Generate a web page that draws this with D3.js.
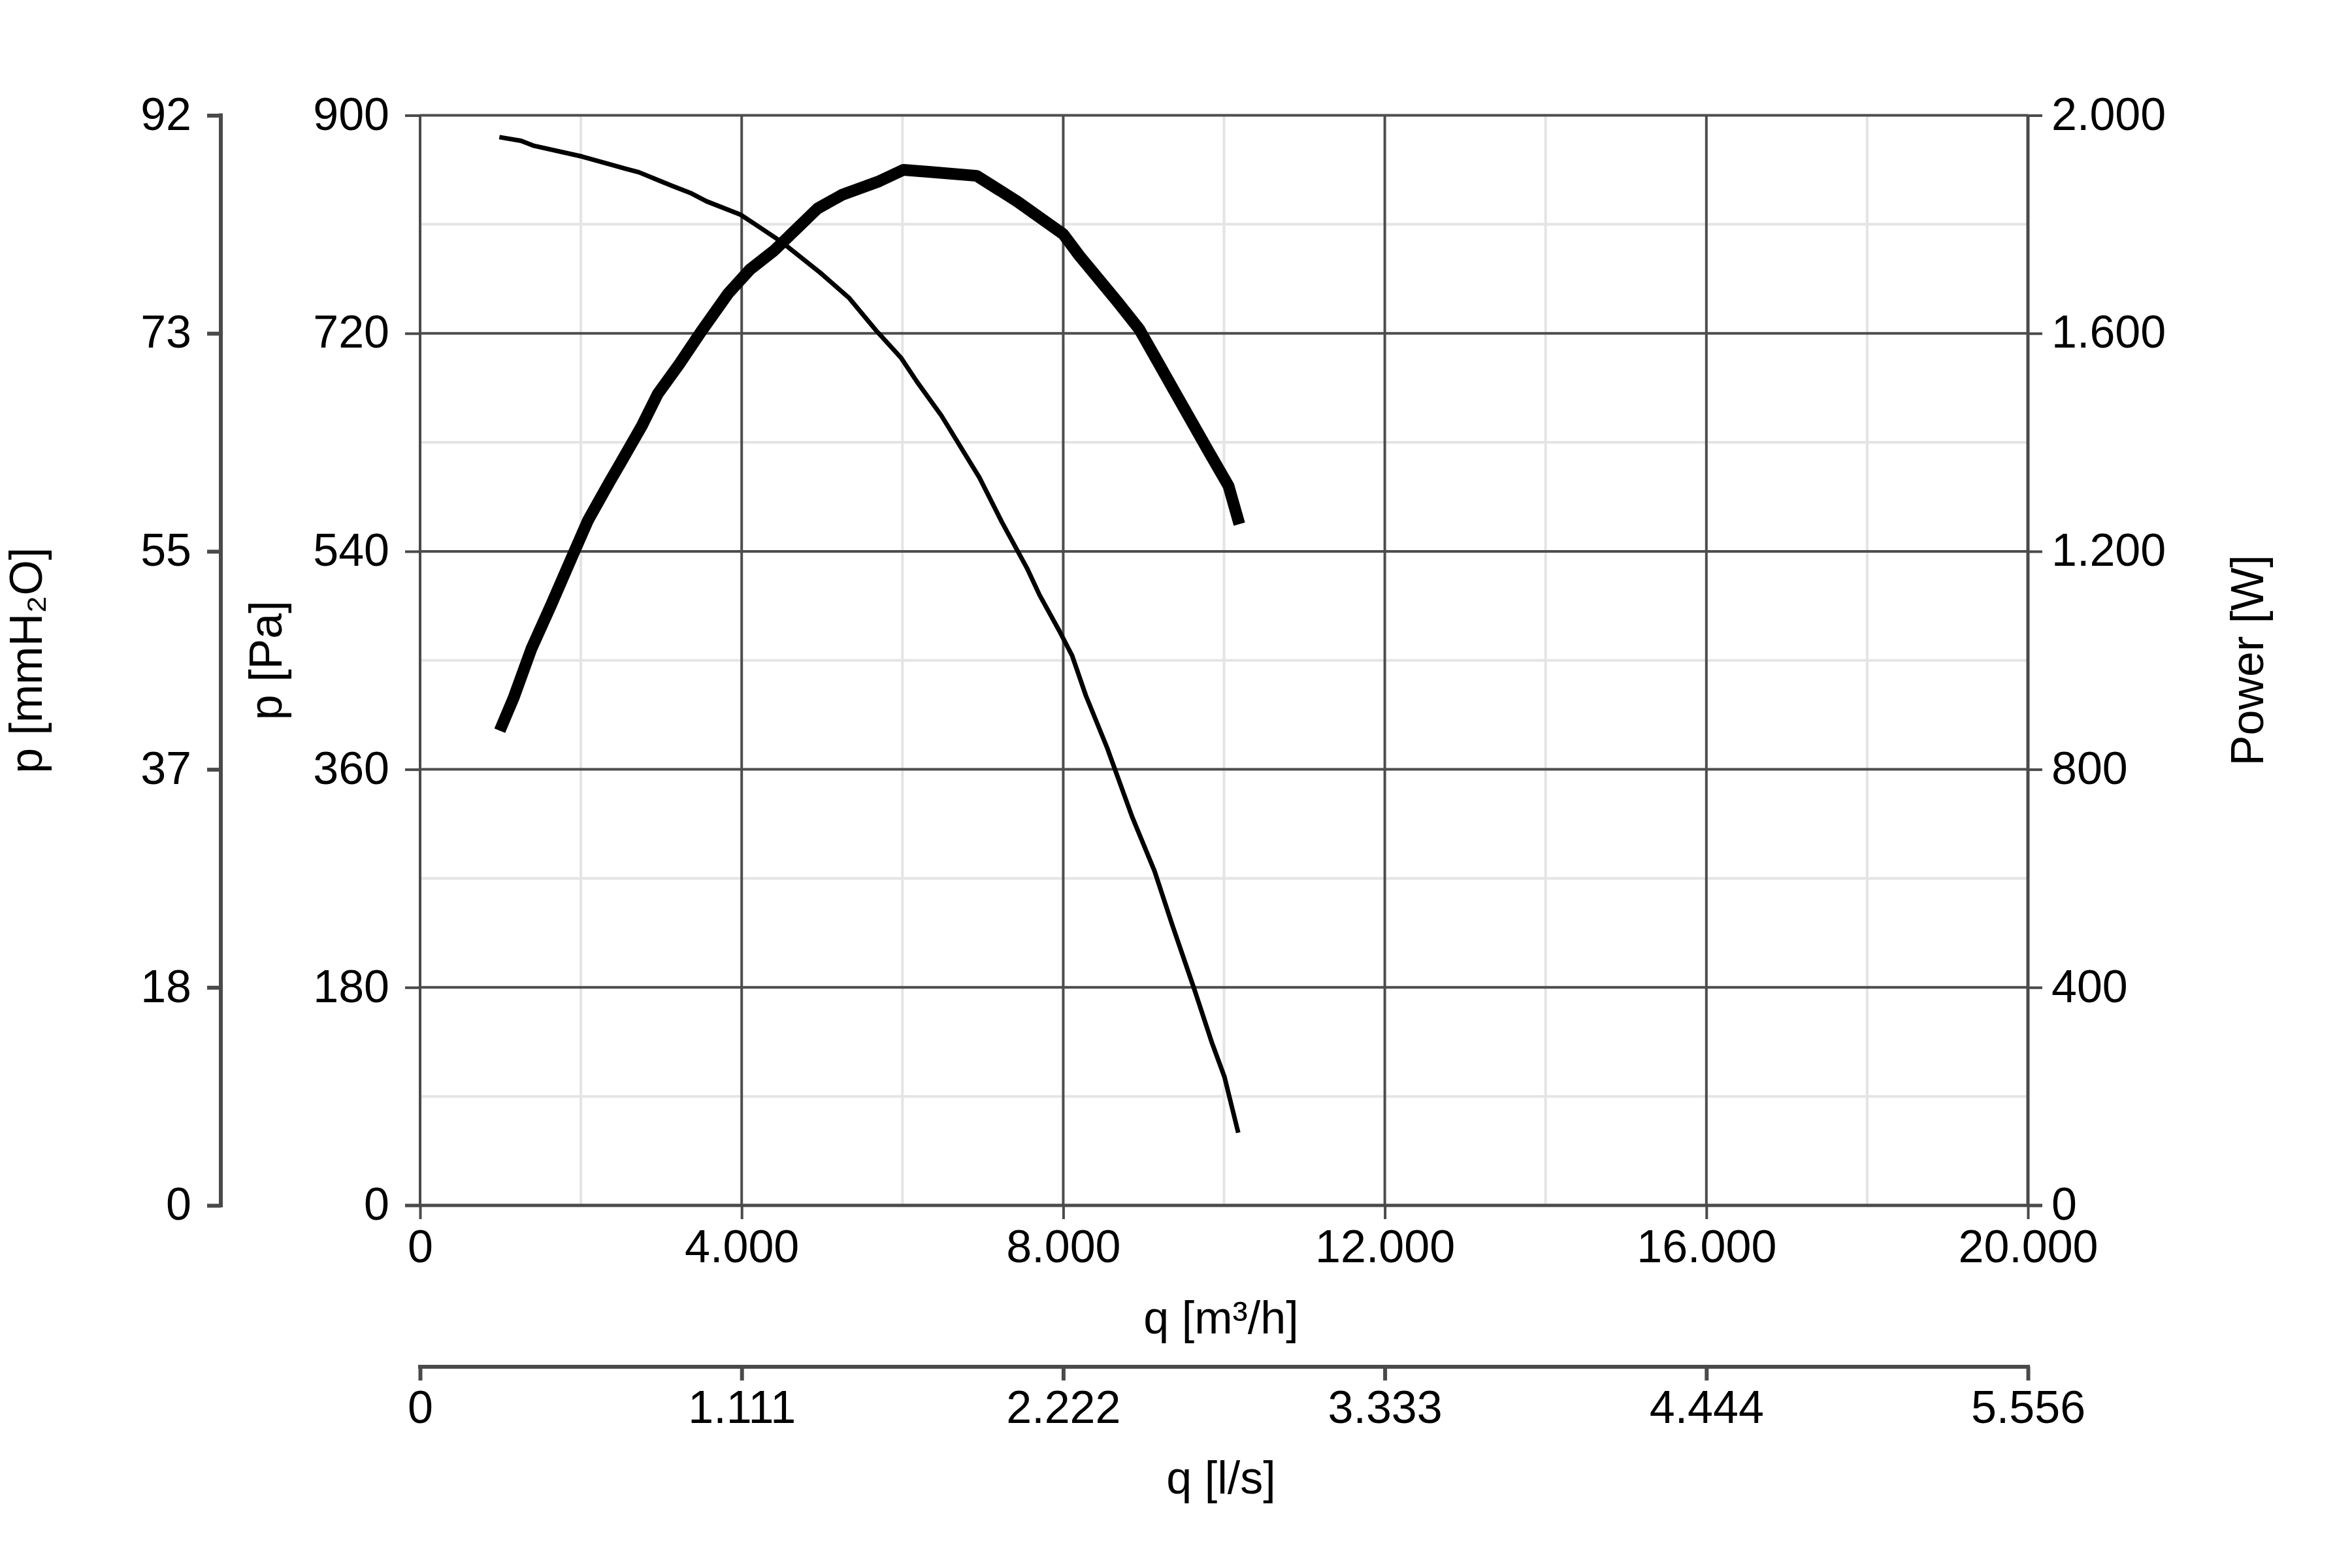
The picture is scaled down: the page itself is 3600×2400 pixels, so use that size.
<!DOCTYPE html>
<html>
<head>
<meta charset="utf-8">
<script src="https://cdn.jsdelivr.net/npm/d3@7/dist/d3.min.js"></script>
<style>
  html, body { margin: 0; padding: 0; background: #fff; }
  svg { display: block; }
  text { font-family: "Liberation Sans", Arial, sans-serif; fill: #000; }
</style>
</head>
<body>
<svg id="chart" width="3600" height="2400"></svg>
<script>
// ---- data ----
const pressureCurve = [ // [q m3/h, p Pa]
  [986,882],[1255,879],[1407,875],[2013,866],[2283,861],[2552,856],[2721,853],
  [3125,842],[3360,836],[3563,829],[3985,818],[4169,810],[4506,795],[4978,770],
  [5339,749],[5677,722],[5980,700],[6181,680],[6485,652],[6957,601],[7238,564],
  [7550,526],[7705,504],[7954,474],[8110,454],[8281,421],[8545,378],[8856,321],
  [9136,276],[9354,232],[9633,178],[9851,134],[10006,106],[10177,60]
];
const powerCurve = [ // [q m3/h, Power W]
  [991,871],[1168,933],[1384,1021],[1628,1101],[1899,1193],[2089,1257],[2359,1328],
  [2485,1360],[2754,1429],[2957,1489],[3226,1544],[3495,1603],[3832,1673],[4102,1717],
  [4405,1752],[4944,1829],[5247,1854],[5710,1879],[6013,1900],[6350,1896],[6923,1889],
  [7428,1842],[8000,1782],[8203,1742],[8674,1658],[8944,1608],[9382,1494],[9821,1380],
  [10056,1320],[10191,1250]
];
const qTicks = [0,4000,8000,12000,16000,20000];
const qMinor = [2000,6000,10000,14000,18000];
const lsTicks = [0,1111.1,2222.2,3333.3,4444.4,5555.6];
const lsLabels = ["0","1.111","2.222","3.333","4.444","5.556"];
const paTicks = [0,180,360,540,720,900];
const paMinor = [90,270,450,630,810];
const mmTicks = [0,18.355,36.71,55.065,73.42,91.775];
const mmLabels = ["0","18","37","55","73","92"];
const wTicks = [0,400,800,1200,1600,2000];

// ---- layout ----
const L = 643, R = 3104, T = 176.5, B = 1845;
const FS = 70;
const gridDark = "#4d4d4d", gridLight = "#e4e4e4", axisCol = "#4a4a4a";

const loc = d3.formatLocale({decimal: ",", thousands: ".", grouping: [3], currency: ["", ""]});
const fmt = loc.format(",d");

const x = d3.scaleLinear([0, 20000], [L, R]);
const xLs = d3.scaleLinear([0, 20000 / 3.6], [L, R]);
const yPa = d3.scaleLinear([0, 900], [B, T]);
const yMm = d3.scaleLinear([0, 900 / 9.80665], [B, T]);
const yW = d3.scaleLinear([0, 2000], [B, T]);

const svg = d3.select("#chart");
svg.append("rect").attr("width", 3600).attr("height", 2400).attr("fill", "#fff");

// minor grid
const g = svg.append("g");
g.selectAll(".vmin").data(qMinor).join("line")
  .attr("x1", d => x(d)).attr("x2", d => x(d)).attr("y1", T).attr("y2", B)
  .attr("stroke", gridLight).attr("stroke-width", 4);
g.selectAll(".hmin").data(paMinor).join("line")
  .attr("x1", L).attr("x2", R).attr("y1", d => yPa(d)).attr("y2", d => yPa(d))
  .attr("stroke", gridLight).attr("stroke-width", 4);

// major grid
g.selectAll(".vmaj").data(qTicks).join("line")
  .attr("x1", d => x(d)).attr("x2", d => x(d)).attr("y1", T).attr("y2", B)
  .attr("stroke", gridDark).attr("stroke-width", 4);
g.selectAll(".hmaj").data(paTicks).join("line")
  .attr("x1", L).attr("x2", R).attr("y1", d => yPa(d)).attr("y2", d => yPa(d))
  .attr("stroke", gridDark).attr("stroke-width", 4);

function styleAxis(sel, width) {
  sel.selectAll("path.domain").remove();
  sel.selectAll(".tick line").attr("stroke", axisCol).attr("stroke-width", width);
  sel.selectAll(".tick text").attr("font-size", FS).attr("font-family", '"Liberation Sans", Arial, sans-serif').attr("fill", "#000");
}

// left Pa axis
const axPa = svg.append("g").attr("transform", `translate(${L},0)`)
  .call(d3.axisLeft(yPa).tickValues(paTicks).tickSize(23).tickPadding(24).tickFormat(d => fmt(d)));
styleAxis(axPa, 4);
axPa.selectAll(".tick text").attr("dy", "0.31em");

// far-left mmH2O axis
const MMX = 338;
const axMm = svg.append("g").attr("transform", `translate(${MMX},0)`)
  .call(d3.axisLeft(yMm).tickValues(mmTicks).tickSize(21).tickPadding(24).tickFormat((d, i) => mmLabels[i]));
styleAxis(axMm, 6);
axMm.selectAll(".tick text").attr("dy", "0.31em");
svg.append("line").attr("x1", MMX).attr("x2", MMX).attr("y1", T - 3).attr("y2", B + 3)
  .attr("stroke", axisCol).attr("stroke-width", 6);

// right Power axis
const axW = svg.append("g").attr("transform", `translate(${R},0)`)
  .call(d3.axisRight(yW).tickValues(wTicks).tickSize(22).tickPadding(14).tickFormat(d => fmt(d)));
styleAxis(axW, 4);
axW.selectAll(".tick text").attr("dy", "0.31em");
svg.append("line").attr("x1", R).attr("x2", R).attr("y1", T).attr("y2", B)
  .attr("stroke", axisCol).attr("stroke-width", 5);

// left plot border
svg.append("line").attr("x1", L).attr("x2", L).attr("y1", T).attr("y2", B)
  .attr("stroke", axisCol).attr("stroke-width", 4);

// bottom q axis
const axQ = svg.append("g").attr("transform", `translate(0,${B})`)
  .call(d3.axisBottom(x).tickValues(qTicks).tickSize(21).tickPadding(14).tickFormat(d => fmt(d)));
styleAxis(axQ, 4);
axQ.selectAll(".tick text").attr("dy", "0").attr("y", 87);
svg.append("line").attr("x1", L - 23).attr("x2", R + 22).attr("y1", B).attr("y2", B)
  .attr("stroke", axisCol).attr("stroke-width", 5);

// second l/s axis
const LSY = 2092;
const axLs = svg.append("g").attr("transform", `translate(0,${LSY})`)
  .call(d3.axisBottom(xLs).tickValues(lsTicks).tickSize(21).tickFormat((d, i) => lsLabels[i]));
styleAxis(axLs, 6);
axLs.selectAll(".tick text").attr("dy", "0").attr("y", 86);
svg.append("line").attr("x1", L - 3).attr("x2", R + 3).attr("y1", LSY).attr("y2", LSY)
  .attr("stroke", axisCol).attr("stroke-width", 6);

// curves
const linePa = d3.line().x(d => x(d[0])).y(d => yPa(d[1])).curve(d3.curveLinear);
const lineW = d3.line().x(d => x(d[0])).y(d => yW(d[1])).curve(d3.curveLinear);
svg.append("path").attr("d", linePa(pressureCurve)).attr("fill", "none")
  .attr("stroke", "#000").attr("stroke-width", 7).attr("stroke-linejoin", "round");
svg.append("path").attr("d", lineW(powerCurve)).attr("fill", "none")
  .attr("stroke", "#000").attr("stroke-width", 18).attr("stroke-linejoin", "round");

// axis titles
const midY = (T + B) / 2;
svg.append("text").attr("transform", `translate(64,${midY}) rotate(-90)`)
  .attr("text-anchor", "middle").attr("font-size", FS).text("p [mmH₂O]");
svg.append("text").attr("transform", `translate(431,${midY}) rotate(-90)`)
  .attr("text-anchor", "middle").attr("font-size", FS).text("p [Pa]");
svg.append("text").attr("transform", `translate(3464,${midY}) rotate(-90)`)
  .attr("text-anchor", "middle").attr("font-size", FS).text("Power [W]");
svg.append("text").attr("x", 1869).attr("y", 2041)
  .attr("text-anchor", "middle").attr("font-size", FS).text("q [m³/h]");
svg.append("text").attr("x", 1869).attr("y", 2286)
  .attr("text-anchor", "middle").attr("font-size", FS).text("q [l/s]");
</script>
</body>
</html>
